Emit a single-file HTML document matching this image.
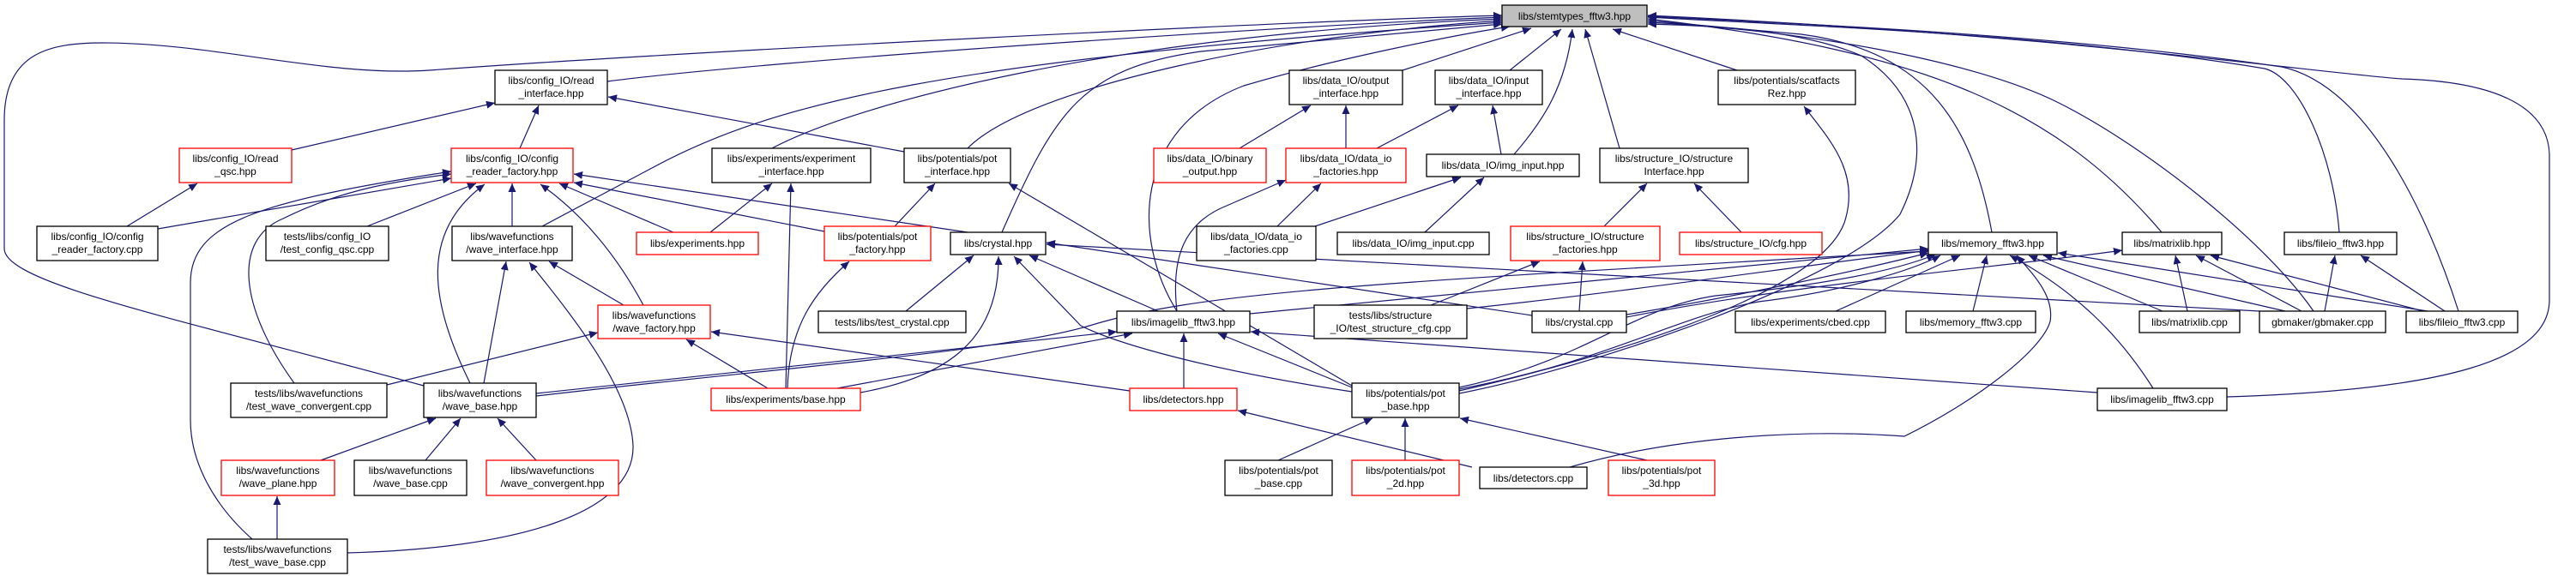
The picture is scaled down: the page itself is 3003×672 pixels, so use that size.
<!DOCTYPE html>
<html><head><meta charset="utf-8"><style>
html,body{margin:0;padding:0;background:#fff;}
svg{display:block;}
text{font-family:"Liberation Sans",sans-serif;font-size:12px;fill:#000;}
.e{fill:none;stroke:#191970;stroke-width:1.2;marker-end:url(#a);}
.b{fill:#fff;stroke:#000;stroke-width:1.3;}
.r{fill:#fff;stroke:#ff0000;stroke-width:1.3;}
</style></head><body>
<svg width="3003" height="672" viewBox="0 0 3003 672" xmlns="http://www.w3.org/2000/svg">
<defs><marker id="a" markerUnits="userSpaceOnUse" markerWidth="11" markerHeight="9" refX="10" refY="4.5" orient="auto"><path d="M0,0 L10,4.5 L0,9 Z" fill="#191970"/></marker></defs>
<g>
<!-- to stemtypes -->
<path class="e" d="M708,95 C900,70 1500,30 1751,20"/>
<path class="e" d="M494,450 C200,370 5,330 5,290 L5,140 C5,60 60,50 120,50 C250,50 380,90 500,82 C800,60 1500,25 1751,18"/>
<path class="e" d="M900,173 C1000,120 1300,40 1751,22"/>
<path class="e" d="M1128,173 C1200,100 1500,40 1751,24"/>
<path class="e" d="M1168,271 C1230,130 1260,80 1400,60 L1751,28"/>
<path class="e" d="M632,264 L760,196 C900,120 1100,70 1751,26"/>
<path class="e" d="M1372,363 C1320,280 1320,150 1450,100 C1550,70 1700,40 1760,31"/>
<path class="e" d="M1635,82 L1785,33"/>
<path class="e" d="M1760,82 L1820,34"/>
<path class="e" d="M1765,180 C1800,140 1825,100 1833,34"/>
<path class="e" d="M1888,173 L1848,34"/>
<path class="e" d="M2025,82 L1880,34"/>
<path class="e" d="M2322,271 C2300,150 2250,60 2100,40 L1921,24"/>
<path class="e" d="M2520,271 C2400,130 2250,60 1921,22"/>
<path class="e" d="M2727,271 C2720,180 2680,90 2640,80 C2400,40 2100,30 1921,20"/>
<path class="e" d="M2866,363 C2830,250 2760,100 2660,78 C2400,40 2100,28 1921,19"/>
<path class="e" d="M2697,363 C2640,280 2500,170 2400,120 C2300,70 2100,35 1921,26"/>
<path class="e" d="M2596,463 C2850,455 2972,420 2972,350 L2972,180 C2970,120 2900,95 2800,92 C2700,85 2400,40 1921,18"/>
<path class="e" d="M1701,459 C1850,430 2150,330 2215,250 C2250,180 2240,110 2170,65 C2100,35 2000,30 1921,28"/>
<path class="e" d="M1701,456 C1900,410 2120,340 2150,260 C2170,200 2130,160 2103,124"/>
<!-- config -->
<path class="e" d="M340,175 L577,120"/>
<path class="e" d="M606,173 L628,123"/>
<path class="e" d="M1054,177 L709,113"/>
<path class="e" d="M148,264 L230,214"/>
<path class="e" d="M184,267 L526,208"/>
<path class="e" d="M428,264 L555,214"/>
<path class="e" d="M597,264 L597,214"/>
<path class="e" d="M548,447 C500,350 490,270 565,215"/>
<path class="e" d="M750,356 C720,300 680,250 630,215"/>
<path class="e" d="M785,271 L652,214"/>
<path class="e" d="M961,270 L669,213"/>
<path class="e" d="M1128,271 L669,203"/>
<path class="e" d="M343,447 C280,360 270,280 330,255 C400,220 470,210 526,203"/>
<path class="e" d="M294,629 C250,590 222,540 222,490 L222,330 C222,260 300,235 526,200"/>
<!-- wave -->
<path class="e" d="M564,447 L590,305"/>
<path class="e" d="M727,356 L640,305"/>
<path class="e" d="M405,645 C600,640 740,600 738,520 C735,450 660,360 617,306"/>
<path class="e" d="M451,449 L697,388"/>
<path class="e" d="M895,453 L800,396"/>
<path class="e" d="M1317,456 L829,387"/>
<path class="e" d="M374,537 L508,488"/>
<path class="e" d="M496,537 L537,488"/>
<path class="e" d="M625,537 L580,488"/>
<path class="e" d="M323,629 L323,579"/>
<!-- experiments / potentials -->
<path class="e" d="M828,271 L900,214"/>
<path class="e" d="M916,453 L922,214"/>
<path class="e" d="M1043,264 L1090,214"/>
<path class="e" d="M1576,450 L1176,214"/>
<path class="e" d="M918,453 C920,380 950,340 990,305"/>
<!-- crystal -->
<path class="e" d="M1056,363 L1135,298"/>
<path class="e" d="M1003,458 C1100,440 1165,400 1164,299"/>
<path class="e" d="M1350,363 L1200,298"/>
<path class="e" d="M1576,457 C1400,430 1300,400 1260,380 L1182,299"/>
<path class="e" d="M1786,368 L1220,283"/>
<path class="e" d="M2634,363 L1220,285"/>
<!-- data_IO -->
<path class="e" d="M1372,363 C1365,300 1380,260 1430,240 L1499,210"/>
<path class="e" d="M1445,173 L1528,123"/>
<path class="e" d="M1569,173 L1569,123"/>
<path class="e" d="M1605,173 L1700,123"/>
<path class="e" d="M1750,180 L1740,123"/>
<path class="e" d="M1489,264 L1540,214"/>
<path class="e" d="M1527,266 L1703,207"/>
<path class="e" d="M1661,271 L1730,207"/>
<!-- structure -->
<path class="e" d="M1870,264 L1920,214"/>
<path class="e" d="M2030,271 L1975,214"/>
<path class="e" d="M1668,356 L1795,305"/>
<path class="e" d="M1841,363 L1845,305"/>
<!-- imagelib -->
<path class="e" d="M1457,366 L2248,290"/>
<path class="e" d="M625,459 L1302,387"/>
<path class="e" d="M625,462 C900,430 1170,410 1270,380 C1400,340 1600,330 2248,293"/>
<path class="e" d="M976,453 L1320,389"/>
<path class="e" d="M1380,453 L1380,389"/>
<path class="e" d="M1576,452 L1420,389"/>
<path class="e" d="M2445,458 L1458,387"/>
<!-- pot_base -->
<path class="e" d="M1490,537 L1600,488"/>
<path class="e" d="M1638,537 L1638,488"/>
<path class="e" d="M1920,537 L1702,488"/>
<path class="e" d="M1716,545 L1443,479"/>
<path class="e" d="M1830,545 C1950,510 2100,500 2220,509 C2300,470 2380,410 2390,375 C2395,345 2370,320 2351,298"/>
<!-- memory -->
<path class="e" d="M1896,367 C2000,350 2150,320 2248,295"/>
<path class="e" d="M1710,360 C1900,340 2100,310 2250,292"/>
<path class="e" d="M1701,452 C1850,420 1900,360 2000,345 C2100,335 2200,320 2256,297"/>
<path class="e" d="M1701,454 C1880,420 1950,370 2050,352 C2150,340 2230,315 2262,298"/>
<path class="e" d="M2140,363 L2285,298"/>
<path class="e" d="M2300,363 L2316,298"/>
<path class="e" d="M2521,363 L2365,298"/>
<path class="e" d="M2664,363 L2382,298"/>
<path class="e" d="M2830,363 L2399,295"/>
<path class="e" d="M2510,453 C2470,390 2420,340 2343,298"/>
<!-- matrixlib / fileio -->
<path class="e" d="M1896,370 C2100,330 2350,310 2474,292"/>
<path class="e" d="M2550,363 L2536,298"/>
<path class="e" d="M2683,363 L2560,298"/>
<path class="e" d="M2825,363 L2577,298"/>
<path class="e" d="M2710,363 L2722,298"/>
<path class="e" d="M2850,363 L2752,298"/>
</g>
<!-- nodes -->
<g text-anchor="middle">
<rect x="1751" y="6" width="169" height="25" fill="#bfbfbf" stroke="#000" stroke-width="1.3"/><text x="1835.5" y="23">libs/stemtypes_fftw3.hpp</text>

<rect class="b" x="577" y="82" width="131" height="40"/><text x="642.5" y="98">libs/config_IO/read</text><text x="642.5" y="113">_interface.hpp</text>
<rect class="r" x="209" y="173" width="131" height="40"/><text x="274.5" y="189">libs/config_IO/read</text><text x="274.5" y="204">_qsc.hpp</text>
<rect class="r" x="526" y="173" width="142" height="40"/><text x="597" y="189">libs/config_IO/config</text><text x="597" y="204">_reader_factory.hpp</text>
<rect class="b" x="43" y="264" width="141" height="40"/><text x="113.5" y="280">libs/config_IO/config</text><text x="113.5" y="295">_reader_factory.cpp</text>
<rect class="b" x="310" y="264" width="143" height="40"/><text x="381.5" y="280">tests/libs/config_IO</text><text x="381.5" y="295">/test_config_qsc.cpp</text>
<rect class="b" x="527" y="264" width="140" height="40"/><text x="597" y="280">libs/wavefunctions</text><text x="597" y="295">/wave_interface.hpp</text>
<rect class="r" x="697" y="356" width="131" height="39"/><text x="762.5" y="372">libs/wavefunctions</text><text x="762.5" y="387">/wave_factory.hpp</text>
<rect class="b" x="269" y="447" width="182" height="40"/><text x="360" y="463">tests/libs/wavefunctions</text><text x="360" y="478">/test_wave_convergent.cpp</text>
<rect class="b" x="494" y="447" width="131" height="40"/><text x="559.5" y="463">libs/wavefunctions</text><text x="559.5" y="478">/wave_base.hpp</text>
<rect class="r" x="258" y="537" width="132" height="41"/><text x="324" y="553">libs/wavefunctions</text><text x="324" y="568">/wave_plane.hpp</text>
<rect class="b" x="413" y="537" width="131" height="41"/><text x="478.5" y="553">libs/wavefunctions</text><text x="478.5" y="568">/wave_base.cpp</text>
<rect class="r" x="567" y="537" width="154" height="41"/><text x="644" y="553">libs/wavefunctions</text><text x="644" y="568">/wave_convergent.hpp</text>
<rect class="b" x="242" y="629" width="163" height="40"/><text x="323.5" y="645">tests/libs/wavefunctions</text><text x="323.5" y="660">/test_wave_base.cpp</text>

<rect class="b" x="830" y="173" width="185" height="40"/><text x="922.5" y="189">libs/experiments/experiment</text><text x="922.5" y="204">_interface.hpp</text>
<rect class="b" x="1054" y="173" width="124" height="40"/><text x="1116" y="189">libs/potentials/pot</text><text x="1116" y="204">_interface.hpp</text>
<rect class="r" x="1345" y="173" width="131" height="40"/><text x="1410.5" y="189">libs/data_IO/binary</text><text x="1410.5" y="204">_output.hpp</text>
<rect class="r" x="742" y="271" width="142" height="26"/><text x="813" y="288">libs/experiments.hpp</text>
<rect class="r" x="961" y="264" width="124" height="40"/><text x="1023" y="280">libs/potentials/pot</text><text x="1023" y="295">_factory.hpp</text>
<rect class="b" x="1108" y="271" width="111" height="26"/><text x="1163.5" y="288">libs/crystal.hpp</text>
<rect class="b" x="954" y="363" width="172" height="25"/><text x="1040" y="380">tests/libs/test_crystal.cpp</text>
<rect class="b" x="1302" y="363" width="155" height="25"/><text x="1379.5" y="380">libs/imagelib_fftw3.hpp</text>
<rect class="r" x="829" y="453" width="174" height="26"/><text x="916" y="470">libs/experiments/base.hpp</text>
<rect class="r" x="1317" y="453" width="125" height="26"/><text x="1379.5" y="470">libs/detectors.hpp</text>
<rect class="b" x="1395" y="264" width="139" height="40"/><text x="1464.5" y="280">libs/data_IO/data_io</text><text x="1464.5" y="295">_factories.cpp</text>
<rect class="b" x="1428" y="537" width="125" height="41"/><text x="1490.5" y="553">libs/potentials/pot</text><text x="1490.5" y="568">_base.cpp</text>

<rect class="b" x="1503" y="82" width="132" height="40"/><text x="1569" y="98">libs/data_IO/output</text><text x="1569" y="113">_interface.hpp</text>
<rect class="b" x="1673" y="82" width="125" height="40"/><text x="1735.5" y="98">libs/data_IO/input</text><text x="1735.5" y="113">_interface.hpp</text>
<rect class="r" x="1499" y="173" width="140" height="40"/><text x="1569" y="189">libs/data_IO/data_io</text><text x="1569" y="204">_factories.hpp</text>
<rect class="b" x="1663" y="180" width="178" height="26"/><text x="1752" y="197">libs/data_IO/img_input.hpp</text>
<rect class="b" x="1865" y="173" width="173" height="40"/><text x="1951.5" y="189">libs/structure_IO/structure</text><text x="1951.5" y="204">Interface.hpp</text>
<rect class="b" x="2003" y="82" width="160" height="40"/><text x="2083" y="98">libs/potentials/scatfacts</text><text x="2083" y="113">Rez.hpp</text>
<rect class="b" x="1559" y="271" width="177" height="26"/><text x="1647.5" y="288">libs/data_IO/img_input.cpp</text>
<rect class="r" x="1761" y="264" width="174" height="40"/><text x="1848" y="280">libs/structure_IO/structure</text><text x="1848" y="295">_factories.hpp</text>
<rect class="r" x="1958" y="271" width="166" height="26"/><text x="2041" y="288">libs/structure_IO/cfg.hpp</text>
<rect class="b" x="1532" y="356" width="178" height="39"/><text x="1621" y="372">tests/libs/structure</text><text x="1621" y="387">_IO/test_structure_cfg.cpp</text>
<rect class="b" x="1786" y="363" width="110" height="25"/><text x="1841" y="380">libs/crystal.cpp</text>
<rect class="b" x="2023" y="363" width="175" height="25"/><text x="2110.5" y="380">libs/experiments/cbed.cpp</text>
<rect class="b" x="1576" y="447" width="125" height="40"/><text x="1638.5" y="463">libs/potentials/pot</text><text x="1638.5" y="478">_base.hpp</text>
<rect class="r" x="1576" y="537" width="125" height="41"/><text x="1638.5" y="553">libs/potentials/pot</text><text x="1638.5" y="568">_2d.hpp</text>
<rect class="b" x="1725" y="545" width="125" height="25"/><text x="1787.5" y="562">libs/detectors.cpp</text>
<rect class="r" x="1875" y="537" width="124" height="41"/><text x="1937" y="553">libs/potentials/pot</text><text x="1937" y="568">_3d.hpp</text>

<rect class="b" x="2248" y="271" width="150" height="26"/><text x="2323" y="288">libs/memory_fftw3.hpp</text>
<rect class="b" x="2474" y="271" width="116" height="26"/><text x="2532" y="288">libs/matrixlib.hpp</text>
<rect class="b" x="2663" y="271" width="131" height="26"/><text x="2728.5" y="288">libs/fileio_fftw3.hpp</text>
<rect class="b" x="2222" y="363" width="151" height="25"/><text x="2297.5" y="380">libs/memory_fftw3.cpp</text>
<rect class="b" x="2494" y="363" width="117" height="25"/><text x="2552.5" y="380">libs/matrixlib.cpp</text>
<rect class="b" x="2634" y="363" width="147" height="25"/><text x="2707.5" y="380">gbmaker/gbmaker.cpp</text>
<rect class="b" x="2805" y="363" width="130" height="25"/><text x="2870" y="380">libs/fileio_fftw3.cpp</text>
<rect class="b" x="2445" y="453" width="151" height="26"/><text x="2520.5" y="470">libs/imagelib_fftw3.cpp</text>
</g>
</svg>
</body></html>
